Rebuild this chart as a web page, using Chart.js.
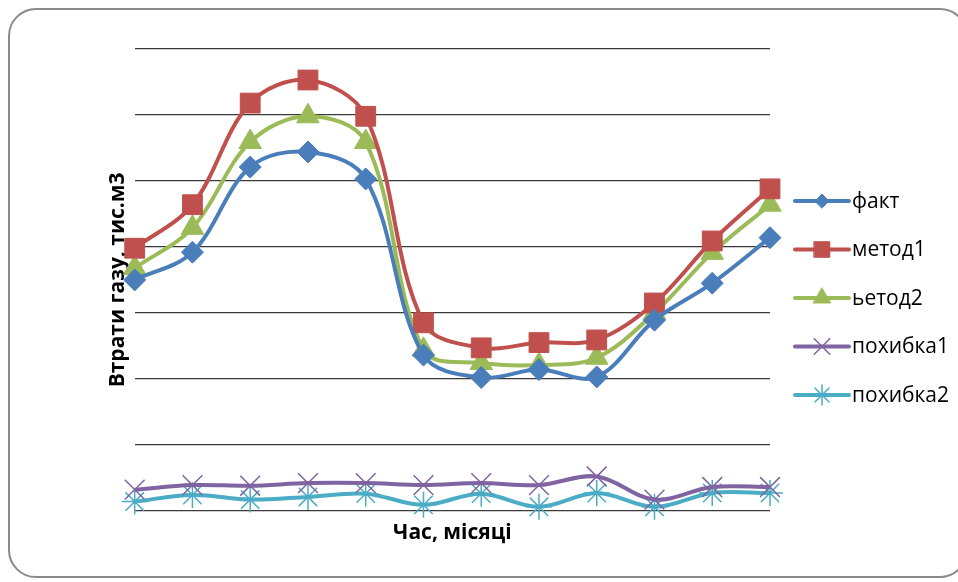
<!DOCTYPE html>
<html>
<head>
<meta charset="utf-8">
<script src="https://cdn.jsdelivr.net/npm/chart.js@4/dist/chart.umd.min.js"></script>
<style>
  html, body { margin: 0; padding: 0; background: #fff; }
  #wrap { position: relative; width: 958px; height: 582px; overflow: hidden; }
  #frame {
    position: absolute; left: 8px; top: 8px; width: 960px; height: 570px;
    border: 2px solid #8a8a8a; border-radius: 28px; box-sizing: border-box;
  }
  #c { position: absolute; left: 0; top: 0; }
</style>
</head>
<body>
<div id="wrap">
  <div id="frame"></div>
  <canvas id="c" width="958" height="582"></canvas>
</div>
<script>
// місяці
const months = ['1', '2', '3', '4', '5', '6', '7', '8', '9', '10', '11', '12'];

// втрати газу, тис.м3
const fakt = [35.0, 39.2, 52.1, 54.4, 50.3, 23.6, 20.2, 21.4, 20.3, 28.9, 34.5, 41.4];
const metod1 = [39.8, 46.4, 61.8, 65.3, 59.8, 28.5, 24.7, 25.5, 25.9, 31.5, 40.9, 48.8];
const metod2 = [36.8, 42.9, 55.9, 59.8, 55.9, 24.4, 22.4, 22.1, 23.2, 30.0, 39.1, 46.4];
const pokhybka1 = [3.2, 3.9, 3.8, 4.2, 4.2, 3.9, 4.2, 3.9, 5.2, 1.7, 3.6, 3.6];
const pokhybka2 = [1.4, 2.4, 1.7, 2.1, 2.6, 0.9, 2.6, 0.6, 2.7, 0.6, 2.7, 2.7];

const seriesNames = ['факт', 'метод1', 'ьетод2', 'похибка1', 'похибка2'];

const FONT = "'Open Sans', 'Noto Sans', sans-serif";

function series(label, data, color, style, radius, bw, legendRadius) {
  return {
    label: label,
    data: data,
    borderColor: color,
    backgroundColor: color,
    borderWidth: 4,
    tension: 0.35,
    pointStyle: style,
    pointRadius: radius,
    pointHoverRadius: radius,
    pointBorderWidth: bw,
    pointBorderColor: color,
    pointBackgroundColor: color,
    legendRadius: legendRadius,
    clip: false
  };
}

// легенда праворуч: лінія + маркер + підпис
const sideLegend = {
  id: 'sideLegend',
  afterDraw(chart) {
    const ctx = chart.ctx;
    const area = chart.chartArea;
    const x0 = area.right + 25;
    const x1 = x0 + 54;
    let y = area.top + 152;
    chart.data.datasets.forEach(ds => {
      ctx.save();
      ctx.strokeStyle = ds.borderColor;
      ctx.lineWidth = 4;
      ctx.lineCap = 'round';
      ctx.beginPath();
      ctx.moveTo(x0, y);
      ctx.lineTo(x1, y);
      ctx.stroke();
      ctx.fillStyle = ds.backgroundColor;
      ctx.lineWidth = ds.pointBorderWidth;
      Chart.helpers.drawPoint(ctx, {
        pointStyle: ds.pointStyle,
        radius: ds.legendRadius,
        rotation: 0,
        borderWidth: ds.pointBorderWidth
      }, (x0 + x1) / 2, y);
      ctx.fillStyle = '#000';
      ctx.font = '21px ' + FONT;
      ctx.textBaseline = 'middle';
      ctx.textAlign = 'left';
      ctx.fillText(ds.label, x1 + 3, y + 1);
      ctx.restore();
      y += 48.5;
    });
  }
};

new Chart(document.getElementById('c'), {
  type: 'line',
  data: {
    labels: months,
    datasets: [
      series(seriesNames[0], fakt, '#4a7ebb', 'rectRot', 11, 1, 7),
      series(seriesNames[1], metod1, '#c0504d', 'rect', 14, 1, 11),
      series(seriesNames[2], metod2, '#9bbb59', 'triangle', 13, 1, 10),
      series(seriesNames[3], pokhybka1, '#8064a2', 'crossRot', 14, 1.5, 11),
      series(seriesNames[4], pokhybka2, '#4bacc6', 'star', 13, 1.5, 10)
    ]
  },
  options: {
    responsive: false,
    animation: false,
    layout: { padding: { left: 105, right: 188, top: 49, bottom: 36 } },
    plugins: {
      legend: { display: false },
      tooltip: { enabled: false }
    },
    scales: {
      x: {
        offset: false,
        grid: { display: false, drawTicks: false },
        border: { display: false },
        ticks: { display: false },
        title: {
          display: true,
          text: 'Час, місяці',
          color: '#000',
          font: { family: FONT, size: 21, weight: 'bold' },
          padding: { top: 10, bottom: 0 }
        }
      },
      y: {
        min: 0,
        max: 70,
        grid: { color: '#3a3a3a', lineWidth: 1.2, drawTicks: false },
        border: { display: false },
        ticks: { display: false, stepSize: 10 },
        title: {
          display: true,
          text: 'Втрати газу, тис.м3',
          color: '#000',
          font: { family: FONT, size: 21, weight: 'bold' },
          padding: { top: 0, bottom: 4.5 }
        }
      }
    }
  },
  plugins: [sideLegend]
});
</script>
</body>
</html>
